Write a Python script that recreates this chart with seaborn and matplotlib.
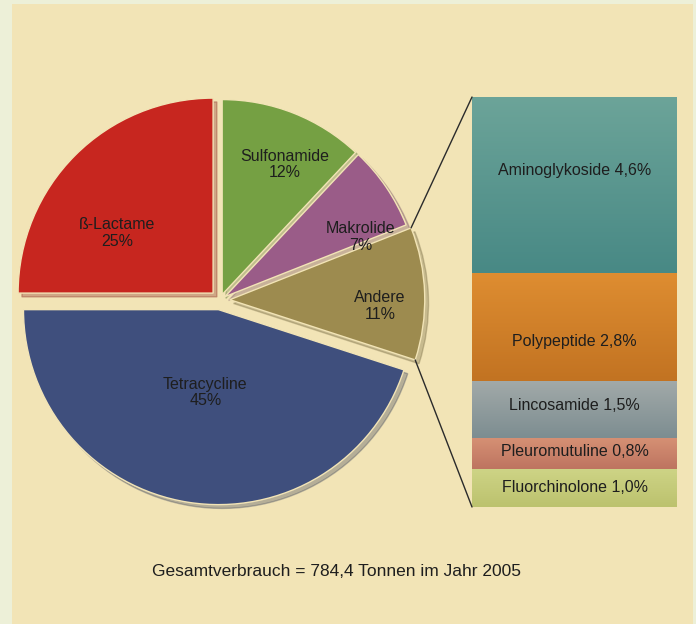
import numpy as np
import matplotlib.pyplot as plt
import seaborn as sns
from matplotlib.patches import Rectangle, ConnectionPatch
from matplotlib.colors import LinearSegmentedColormap

# Hauptgruppen, im Uhrzeigersinn ab 12 Uhr
gruppen = ['Sulfonamide', 'Makrolide', 'Andere', 'Tetracycline', 'ß-Lactame']
anteile = [12, 7, 11, 45, 25]
farben_pie = ['#75A043', '#9A5C88', '#9D8B4F', '#3F4F7D', '#C7261F']

# Aufschlüsselung von "Andere", von oben nach unten
andere = ['Aminoglykoside', 'Polypeptide', 'Lincosamide', 'Pleuromutuline', 'Fluorchinolone']
andere_werte = [4.6, 2.8, 1.5, 0.8, 1.0]
andere_text = ['4,6%', '2,8%', '1,5%', '0,8%', '1,0%']
farben_bar = ['#58978D', '#D5832A', '#8C9C9C', '#CC846A', '#C6CC7C']
# Verlauf: (unten, oben)
verlauf_bar = [('#488985', '#6CA499'), ('#C27322', '#DE8D31'), ('#7D8D91', '#A2AAA9'),
               ('#BE7460', '#D59074'), ('#BCC26E', '#CED486')]

untertitel = 'Gesamtverbrauch = 784,4 Tonnen im Jahr 2005'

# Layout (Pixel bei 100 dpi)
W, H = 696, 624
explode = [0.03, 0.03, 0.05, 0.05, 0.05]
label_r = [0.77, 0.79, 0.82, 0.48, 0.63]
label_dw = [-4, -10, -4, 0, 12]
bar_dy = [0.37, -0.39, 0.1, 0.05, 0.0]

sns.set_theme(style='white')
plt.rcParams['font.family'] = ['Liberation Sans', 'DejaVu Sans']

fig = plt.figure(figsize=(W / 100, H / 100), dpi=100)
fig.patch.set_facecolor('#EDF0D8')
fig.add_artist(Rectangle((12 / W, 0), 681 / W, 620 / H, transform=fig.transFigure,
                         facecolor='#F2E4B6', edgecolor='none', zorder=0))

# Kreisdiagramm
ax_pie = fig.add_axes([5.5 / W, 1 - 514.5 / H, 429 / W, 429 / H])
wedges, _ = ax_pie.pie(anteile, colors=farben_pie, startangle=90, counterclock=False,
                       explode=explode, radius=1,
                       wedgeprops=dict(edgecolor='#F2E4B6', linewidth=1.0),
                       shadow={'ox': 0.014, 'oy': -0.014, 'shade': 0.35, 'alpha': 0.3})
ax_pie.set_xlim(-1.1, 1.1)
ax_pie.set_ylim(-1.1, 1.1)
ax_pie.set_aspect('equal')
ax_pie.axis('off')

for w, name, val, r, dw in zip(wedges, gruppen, anteile, label_r, label_dw):
    mid = np.deg2rad((w.theta1 + w.theta2) / 2 + dw)
    ax_pie.text(r * np.cos(mid), r * np.sin(mid), f'{name}\n{val}%',
                ha='center', va='center', fontsize=11.5, color='#1E1E1E',
                linespacing=1.15, zorder=5)

# Balken für "Andere"
ax_bar = fig.add_axes([472 / W, 1 - 507 / H, 205 / W, 410 / H])
gesamt = sum(andere_werte)
boden = gesamt
for name, val, txt, col, dy in zip(andere, andere_werte, andere_text, farben_bar, bar_dy):
    boden -= val
    sns.barplot(x=[0], y=[val], bottom=boden, color=col, saturation=1, width=1,
                errorbar=None, edgecolor='#E9DCB0', linewidth=0.8, ax=ax_bar)
    ax_bar.text(0, boden + val / 2 + dy, f'{name} {txt}', ha='center', va='center',
                fontsize=11.5, color='#1E1E1E', zorder=5)

# leichter Farbverlauf in jedem Segment
for patch, (unten, oben) in zip(ax_bar.patches, verlauf_bar):
    x0, y0 = patch.get_x(), patch.get_y()
    cmap = LinearSegmentedColormap.from_list('v', [unten, oben])
    img = ax_bar.imshow(np.linspace(0, 1, 64).reshape(-1, 1), cmap=cmap, origin='lower',
                        aspect='auto', extent=(x0, x0 + patch.get_width(), y0, y0 + patch.get_height()),
                        zorder=2)
    img.set_clip_path(patch)

ax_bar.set_xlim(-0.5, 0.5)
ax_bar.set_ylim(0, gesamt)
ax_bar.axis('off')

# Verbindungslinien
w_and = wedges[gruppen.index('Andere')]
cx, cy = w_and.center
for ang, yb in [(w_and.theta2, gesamt), (w_and.theta1, 0)]:
    a = np.deg2rad(ang)
    con = ConnectionPatch(xyA=(cx + np.cos(a), cy + np.sin(a)), coordsA=ax_pie.transData,
                          xyB=(-0.5, yb), coordsB=ax_bar.transData,
                          color='#2B2B2B', linewidth=1.0)
    fig.add_artist(con)

fig.text(336 / W, 1 - 572 / H, untertitel, ha='center', va='center',
         fontsize=12.5, color='#1E1E1E')

fig.savefig('out.png', dpi=100, facecolor=fig.get_facecolor())
